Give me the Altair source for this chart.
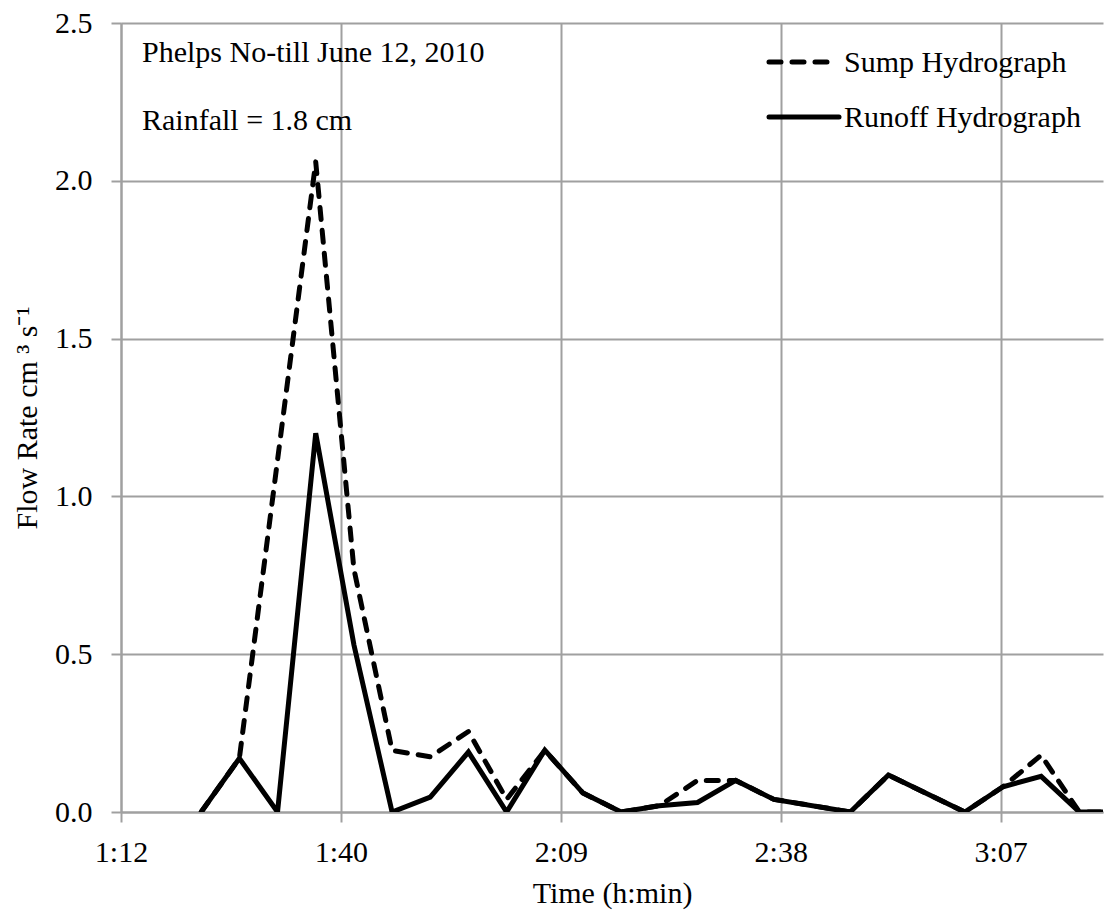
import altair as alt
import pandas as pd

# Sampling times, minutes after midnight (5-minute readings)
sump_time = [82.5, 87.5, 97.5, 102.5, 107.5, 112.5, 117.5, 122.5, 127.5, 132.5,
             137.5, 142.5, 147.5, 152.5, 157.5, 167.5, 172.5, 182.5, 187.5, 192.5,
             197.5, 202.5]
sump_flow = [0.0, 0.17, 2.06, 0.77, 0.195, 0.175, 0.255, 0.04, 0.195, 0.06,
             0.0, 0.02, 0.10, 0.10, 0.04, 0.0, 0.117, 0.0, 0.08, 0.18,
             0.0, 0.0]

runoff_time = [82.5, 87.5, 92.5, 97.5, 102.5, 107.5, 112.5, 117.5, 122.5, 127.5,
               132.5, 137.5, 142.5, 147.5, 152.5, 157.5, 167.5, 172.5, 182.5,
               187.5, 192.5, 197.5, 202.5]
runoff_flow = [0.0, 0.17, 0.0, 1.2, 0.53, 0.0, 0.047, 0.19, 0.0, 0.196,
               0.06, 0.0, 0.02, 0.03, 0.10, 0.04, 0.0, 0.117, 0.0,
               0.08, 0.113, 0.0, 0.0]

series_names = ["Sump Hydrograph", "Runoff Hydrograph"]
x_ticks = [72, 100.8, 129.6, 158.4, 187.2]
y_ticks = [0.0, 0.5, 1.0, 1.5, 2.0, 2.5]

FONT = "Liberation Serif"
GRID = "#a0a0a0"

sump = pd.DataFrame({"t": sump_time, "flow": sump_flow, "series": series_names[0]})
runoff = pd.DataFrame({"t": runoff_time, "flow": runoff_flow, "series": series_names[1]})

x_enc = alt.X(
    "t:Q",
    scale=alt.Scale(domain=[72, 200.6], nice=False, zero=False),
    axis=alt.Axis(
        values=x_ticks,
        labelExpr="utcFormat(datum.value * 60000, '%-H:%M')",
        labelFlush=False,
        title="Time (h:min)",
        labelPadding=15,
        titlePadding=11,
    ),
)
y_enc = alt.Y(
    "flow:Q",
    scale=alt.Scale(domain=[0, 2.5], nice=False),
    axis=alt.Axis(
        values=y_ticks,
        format=".1f",
        title="Flow Rate cm \u00b3 s\u207b\u00b9",
        labelPadding=19,
        titlePadding=12,
    ),
)

sump_line = alt.Chart(sump).mark_line(
    color="black", strokeWidth=5, strokeDash=[12, 11], strokeCap="round",
    strokeJoin="round", clip=True,
).encode(x=x_enc, y=y_enc)

runoff_line = alt.Chart(runoff).mark_line(
    color="black", strokeWidth=5, strokeCap="butt", strokeJoin="miter", clip=True,
).encode(x="t:Q", y="flow:Q")

# Annotation text in the upper-left corner
notes = pd.DataFrame({"txt": ["Phelps No-till June 12, 2010", "Rainfall = 1.8 cm"]})
note1 = alt.Chart(notes.iloc[[0]]).mark_text(
    font=FONT, fontSize=30, align="left", baseline="alphabetic", color="black"
).encode(x=alt.value(21), y=alt.value(39), text="txt:N")
note2 = alt.Chart(notes.iloc[[1]]).mark_text(
    font=FONT, fontSize=30, align="left", baseline="alphabetic", color="black"
).encode(x=alt.value(21), y=alt.value(107), text="txt:N")

# Legend in the upper-right corner
leg = pd.DataFrame({"name": series_names})
leg_sump_sym = alt.Chart(leg.iloc[[0]]).mark_rule(
    color="black", strokeWidth=5, strokeDash=[12, 11], strokeCap="round"
).encode(x=alt.value(648), x2=alt.value(706), y=alt.value(39))
leg_run_sym = alt.Chart(leg.iloc[[1]]).mark_rule(
    color="black", strokeWidth=5, strokeCap="round"
).encode(x=alt.value(648), x2=alt.value(718), y=alt.value(94))
leg_sump_txt = alt.Chart(leg.iloc[[0]]).mark_text(
    font=FONT, fontSize=30, align="left", baseline="middle", color="black"
).encode(x=alt.value(723), y=alt.value(40), text="name:N")
leg_run_txt = alt.Chart(leg.iloc[[1]]).mark_text(
    font=FONT, fontSize=30, align="left", baseline="middle", color="black"
).encode(x=alt.value(723), y=alt.value(95), text="name:N")

chart = alt.layer(
    sump_line, runoff_line, note1, note2,
    leg_sump_sym, leg_run_sym, leg_sump_txt, leg_run_txt,
).properties(
    width=982,
    height=789,
    autosize=alt.AutoSizeParams(type="none"),
    padding={"left": 121, "top": 23, "right": 2, "bottom": 106},
    background="white",
).configure_view(
    stroke=None,
).configure_axis(
    domainColor=GRID,
    domainWidth=2,
    tickColor=GRID,
    tickWidth=2,
    tickSize=10,
    gridColor=GRID,
    gridWidth=2,
    labelFont=FONT,
    labelFontSize=30,
    labelColor="black",
    titleFont=FONT,
    titleFontSize=30,
    titleFontWeight="normal",
    titleColor="black",
)

chart.save("out.html", embed_options={"renderer": "svg", "actions": False})
